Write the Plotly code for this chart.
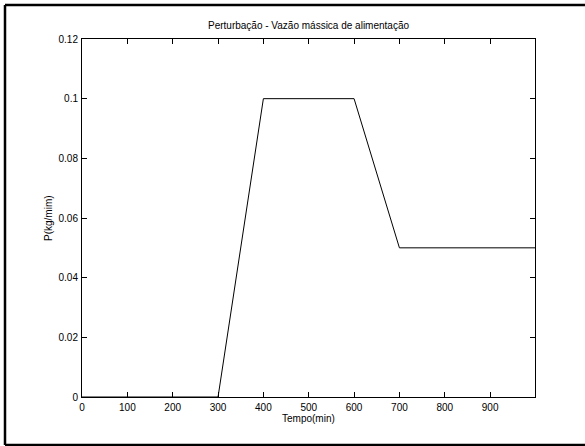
import plotly.graph_objects as go

tempo = [0, 300, 400, 600, 700, 999]
vazao = [0, 0, 0.1, 0.1, 0.05, 0.05]
x_ticks = [0, 100, 200, 300, 400, 500, 600, 700, 800, 900]
y_ticks = [0, 0.02, 0.04, 0.06, 0.08, 0.1, 0.12]
y_tick_labels = ["0", "0.02", "0.04", "0.06", "0.08", "0.1", "0.12"]

fig = go.Figure()
fig.add_trace(go.Scatter(x=tempo, y=vazao, mode="lines",
                         line=dict(color="black", width=1), showlegend=False,
                         hoverinfo="skip"))

font = dict(family="Liberation Sans, Arial, sans-serif", size=10, color="black")

W, H = 453, 358
def px(x):
    return (x - 82) / W
def py(y):
    return (397 - y) / H

border = dict(color="black", width=2.5)

fig.update_layout(
    width=585, height=446,
    margin=dict(l=82, r=50, t=39, b=49),
    paper_bgcolor="white", plot_bgcolor="white",
    font=font,
    xaxis=dict(range=[0, 999], tickvals=x_ticks, ticks="inside", ticklen=5,
               tickcolor="black", showline=True, linecolor="black", linewidth=1,
               mirror="ticks", showgrid=False, zeroline=False, tickfont=font,
               ticklabelstandoff=1),
    yaxis=dict(range=[0, 0.12], tickvals=y_ticks, ticktext=y_tick_labels,
               ticks="inside", ticklen=5, tickcolor="black", showline=True,
               linecolor="black", linewidth=1, mirror="ticks", showgrid=False,
               zeroline=False, tickfont=font, ticklabelstandoff=1),
    annotations=[
        dict(text="Perturbação - Vazão mássica de alimentação", xref="paper", yref="paper",
             x=0.5, y=py(26), xanchor="center", yanchor="middle",
             showarrow=False, font=font),
        dict(text="Tempo(min)", xref="paper", yref="paper",
             x=0.5, y=py(418), xanchor="center", yanchor="middle",
             showarrow=False, font=font),
        dict(text="P(kg/mim)", xref="paper", yref="paper",
             x=px(48), y=0.5, xanchor="center", yanchor="middle",
             textangle=-90, showarrow=False, font=font),
    ],
    shapes=[
        dict(type="line", xref="paper", yref="paper", x0=px(5), x1=px(590),
             y0=py(5), y1=py(5), line=border),
        dict(type="line", xref="paper", yref="paper", x0=px(5), x1=px(590),
             y0=py(445), y1=py(445), line=border),
        dict(type="line", xref="paper", yref="paper", x0=px(5), x1=px(5),
             y0=py(5), y1=py(445), line=border),
    ],
)

fig.write_html("out.html", config={"displayModeBar": False},
               post_script="document.body.style.margin='0';document.body.style.overflow='hidden';")
